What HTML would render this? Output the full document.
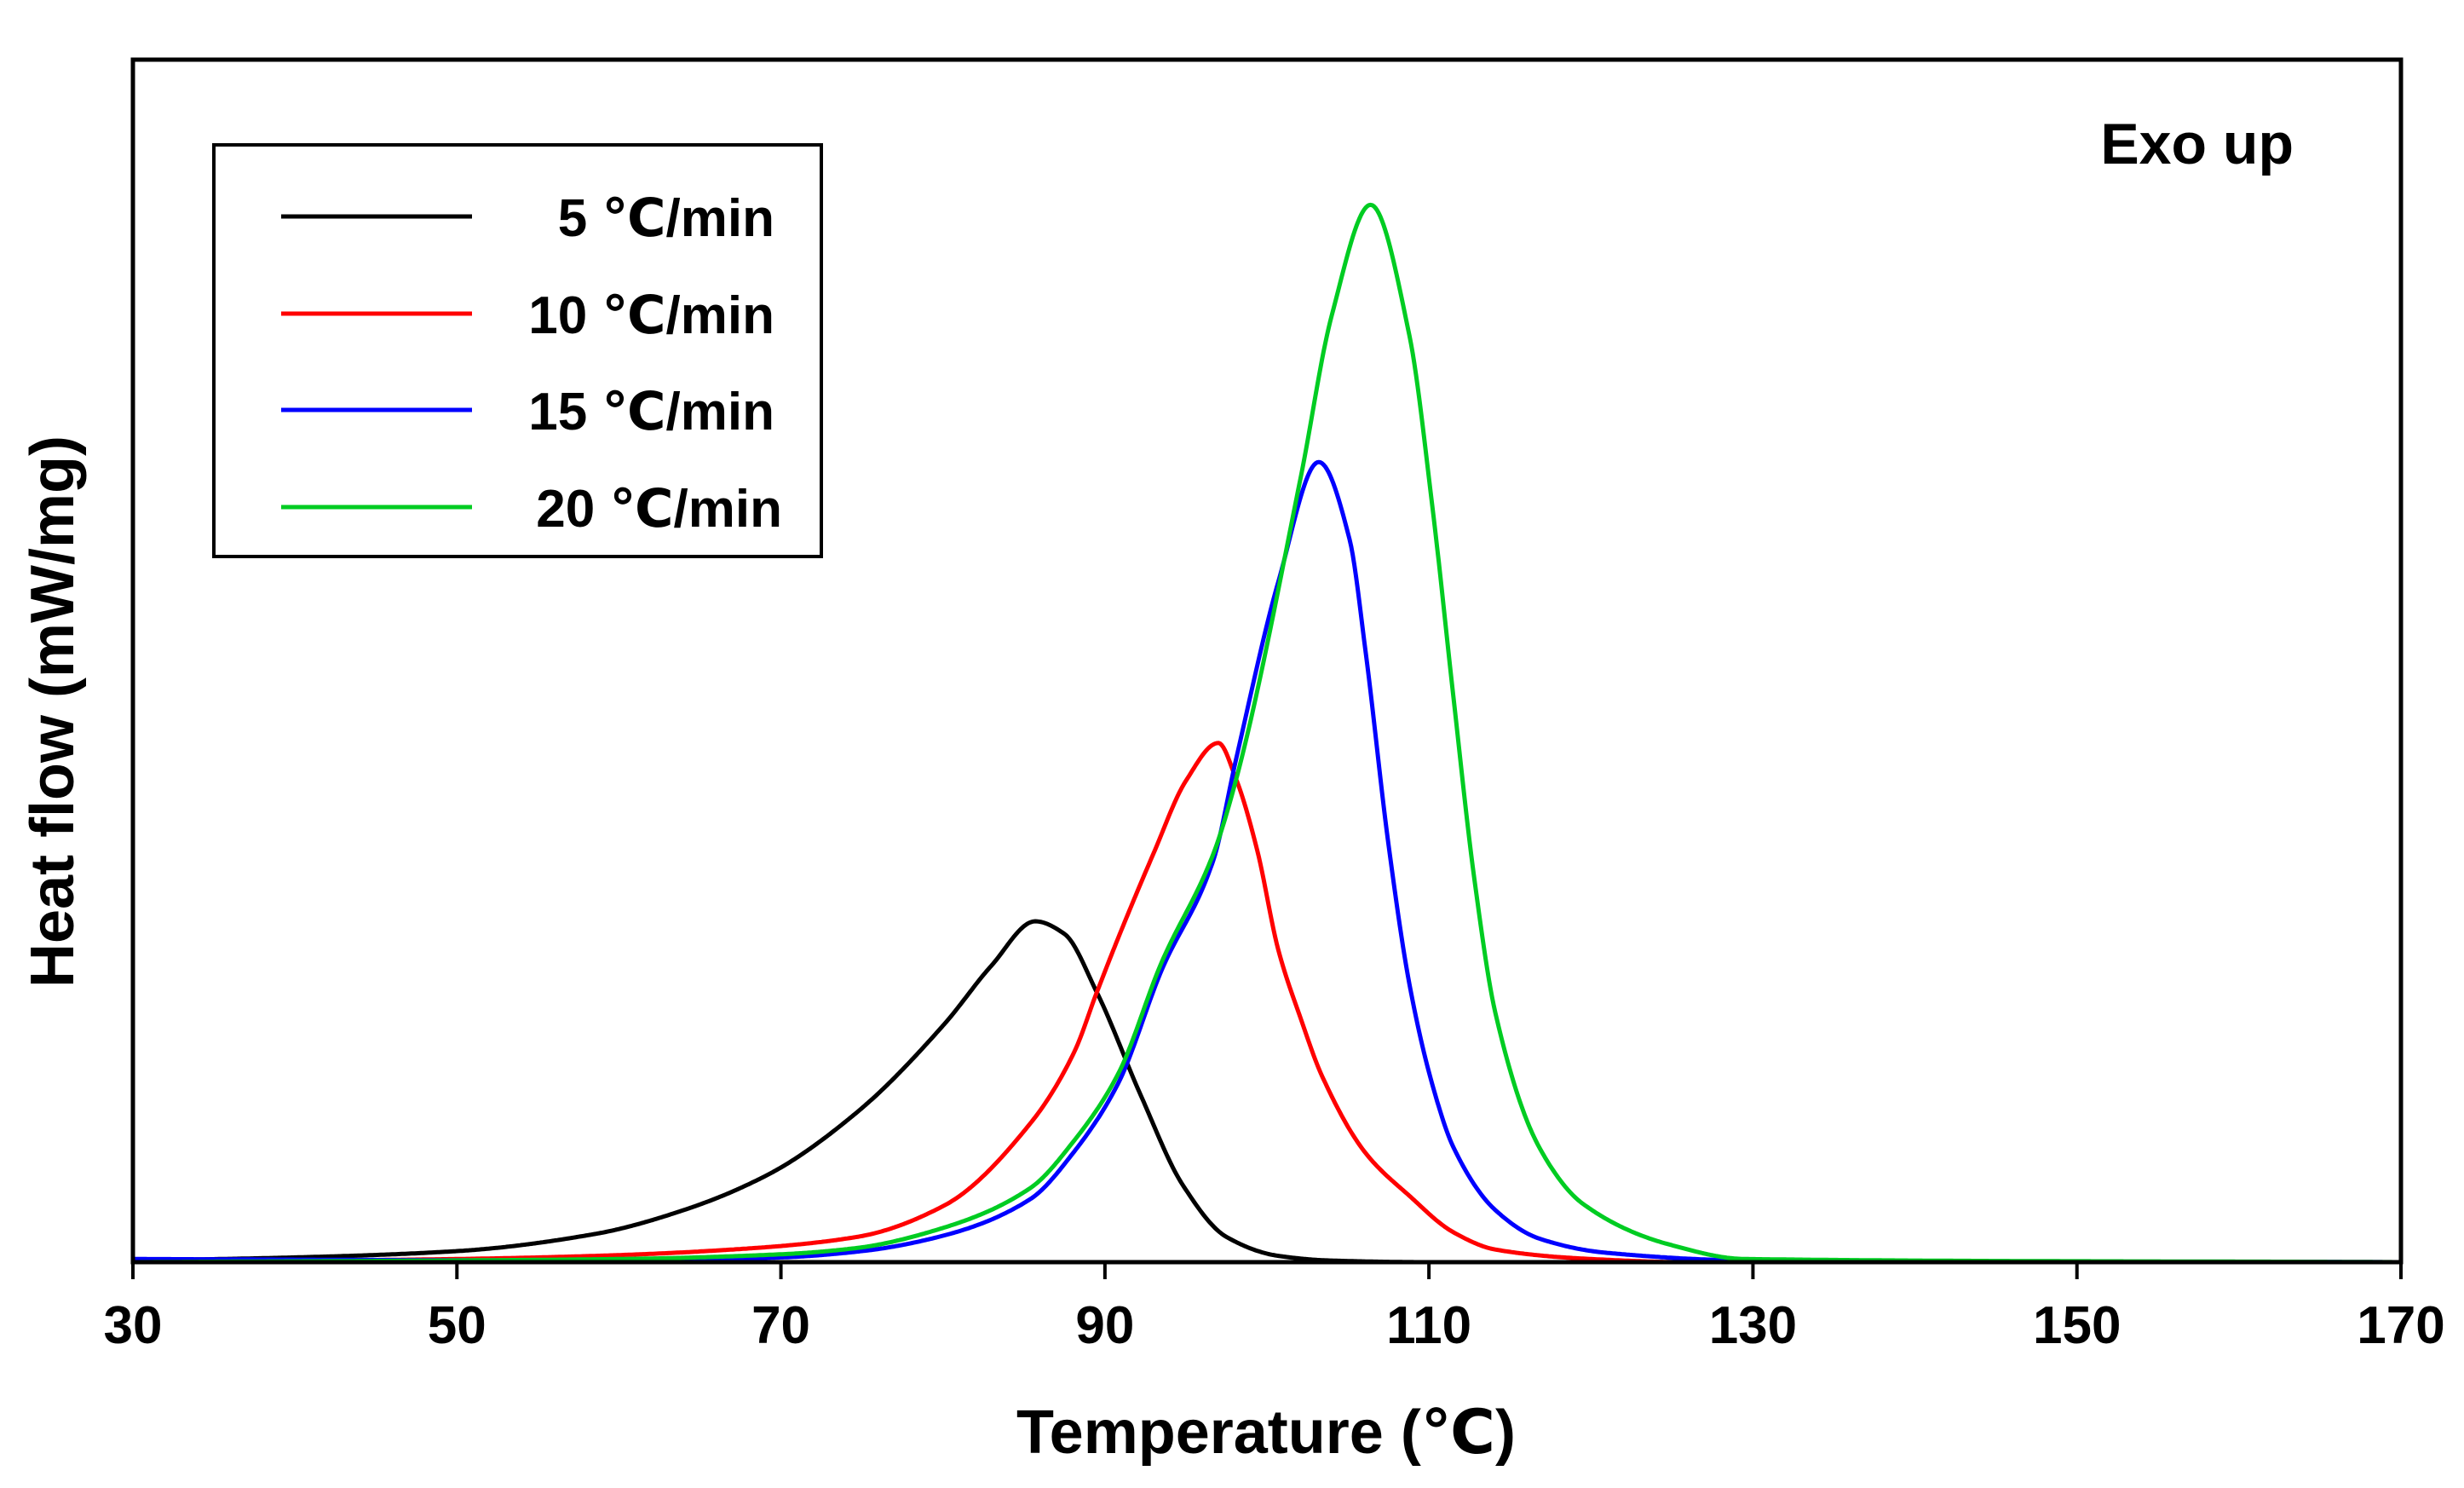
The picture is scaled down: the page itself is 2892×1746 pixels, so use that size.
<!DOCTYPE html>
<html><head><meta charset="utf-8"><style>
html,body{margin:0;padding:0;background:#fff;}
svg{display:block;}
text{font-family:"Liberation Sans","DejaVu Sans",sans-serif;font-weight:bold;fill:#000;}
</style></head><body>
<svg id="chart" width="2892" height="1746" viewBox="0 0 2892 1746" xmlns="http://www.w3.org/2000/svg">
<g id="curves"></g>
<rect x="156" y="70" width="2662" height="1411" fill="none" stroke="#000" stroke-width="5"/>
<g id="xticks"></g>
<text x="1486" y="1705" font-size="72" text-anchor="middle">Temperature (℃)</text>
<text transform="translate(86,835) rotate(-90)" font-size="72" text-anchor="middle">Heat flow (mW/mg)</text>
<text x="2692" y="192" font-size="68" text-anchor="end">Exo up</text>
<g>
<rect x="251" y="170" width="713" height="483" fill="#fff" stroke="#000" stroke-width="4"/>
<g id="legend-entries"></g>
</g>
</svg>
<script>
const xTicks = [30, 50, 70, 90, 110, 130, 150, 170];
const seriesNames = ["5 ℃/min", "10 ℃/min", "15 ℃/min", "20 ℃/min"];
const seriesColors = ["#000000", "#ff0000", "#0000ff", "#00cc22"];
const blackT = [30,40,50,58.6,64,69.3,74.7,80.1,83,85.7,87.5,89.5,92.2,94.8,97.5,100.7,104,110,170];
const blackV = [0.01,0.03,0.07,0.18,0.33,0.56,0.95,1.51,1.88,2.16,2.08,1.71,1.06,0.49,0.16,0.04,0.01,0,0];
const redT = [30,50,58.6,67,74.7,80.1,85.4,88.1,89.5,90.8,93,95,97,98.1,99.4,100.7,102.1,103.4,106.1,108.8,111.5,114.1,120,126,170];
const redV = [0,0.02,0.04,0.08,0.16,0.36,0.88,1.33,1.71,2.05,2.59,3.05,3.29,3.06,2.61,1.98,1.54,1.18,0.69,0.42,0.19,0.08,0.02,0,0];
const blueT = [30,60,70,75,80.1,85.4,88.1,90.8,93.5,96.7,98.1,100.7,103.2,105.1,106.1,107.5,108.8,110.2,111.5,114.1,116.8,120.9,130,170];
const blueV = [0.02,0.01,0.03,0.07,0.17,0.40,0.70,1.13,1.85,2.55,3.19,4.31,5.07,4.58,3.86,2.65,1.76,1.13,0.73,0.33,0.15,0.06,0.01,0];
const greenT = [30,60,70,74.7,80.1,85.4,88.1,90.8,93.5,96.7,98.1,102.1,104,106.4,108.8,110.2,111.5,112.8,114.1,116.8,119.5,124.9,129.5,170];
const greenV = [0,0.02,0.05,0.09,0.22,0.47,0.77,1.19,1.90,2.59,3.06,4.98,6.0,6.70,5.87,4.80,3.59,2.43,1.58,0.73,0.37,0.11,0.02,0];
const allT = [blackT, redT, blueT, greenT];
const allV = [blackV, redV, blueV, greenV];

const NS = "http://www.w3.org/2000/svg";
const X0 = 156, X1 = 2818, Y0 = 1481, Y1 = 70;
const xMin = 30, xMax = 170, yMin = 0, yMax = 7.62;
function xs(t){ return X0 + (t - xMin) / (xMax - xMin) * (X1 - X0); }
function ys(v){ return Y0 - (v - yMin) / (yMax - yMin) * (Y0 - Y1); }

// Fritsch-Carlson monotone cubic interpolation
function monotone(T, V){
  const n = T.length, d = [], m = new Array(n);
  for (let i=0;i<n-1;i++) d.push((V[i+1]-V[i])/(T[i+1]-T[i]));
  m[0]=d[0]; m[n-1]=d[n-2];
  for (let i=1;i<n-1;i++){
    if (d[i-1]*d[i] <= 0) m[i]=0;
    else { const h0=T[i]-T[i-1], h1=T[i+1]-T[i]; const w1=2*h1+h0, w2=h1+2*h0; m[i]=(w1+w2)/(w1/d[i-1]+w2/d[i]); }
  }
  return function(t){
    let i=0; while(i<n-2 && t>T[i+1]) i++;
    const h=T[i+1]-T[i], s=(t-T[i])/h;
    const h00=2*s*s*s-3*s*s+1, h10=s*s*s-2*s*s+s, h01=-2*s*s*s+3*s*s, h11=s*s*s-s*s;
    return h00*V[i]+h10*h*m[i]+h01*V[i+1]+h11*h*m[i+1];
  };
}
function pathFor(T, V){
  const f = monotone(T, V);
  let d = "";
  for (let t=T[0]; t<=T[T.length-1]+1e-9; t+=0.1){
    const v = Math.max(0, f(t));
    d += (d ? " L" : "M") + xs(t).toFixed(1) + "," + ys(v).toFixed(1);
  }
  return d;
}

const cg = document.getElementById("curves");
const keys = ["curve-5-c-min","curve-10-c-min","curve-15-c-min","curve-20-c-min"];
allT.forEach((T, s) => {
  const path = document.createElementNS(NS, "path");
  path.setAttribute("d", pathFor(T, allV[s]));
  path.setAttribute("fill", "none");
  path.setAttribute("stroke", seriesColors[s]);
  path.setAttribute("stroke-width", "5");
  path.setAttribute("stroke-linejoin", "round");
  
  
  cg.appendChild(path);
});

const xg = document.getElementById("xticks");
xTicks.forEach(t => {
  const l = document.createElementNS(NS, "line");
  l.setAttribute("x1", xs(t)); l.setAttribute("x2", xs(t));
  l.setAttribute("y1", Y0); l.setAttribute("y2", Y0 + 20);
  l.setAttribute("stroke", "#000"); l.setAttribute("stroke-width", "4");
  
  
  xg.appendChild(l);
  const tx = document.createElementNS(NS, "text");
  tx.setAttribute("x", xs(t)); tx.setAttribute("y", 1576);
  tx.setAttribute("font-size", "62"); tx.setAttribute("text-anchor", "middle");
  tx.textContent = t;
  
  
  xg.appendChild(tx);
});

const lg = document.getElementById("legend-entries");
const rowY = [254, 368, 481, 595];
const textRight = [909, 909, 909, 918];
seriesNames.forEach((n, i) => {
  const l = document.createElementNS(NS, "line");
  l.setAttribute("x1", 330); l.setAttribute("x2", 554);
  l.setAttribute("y1", rowY[i]); l.setAttribute("y2", rowY[i]);
  l.setAttribute("stroke", seriesColors[i]); l.setAttribute("stroke-width", "5");
  
  
  lg.appendChild(l);
  const tx = document.createElementNS(NS, "text");
  tx.setAttribute("x", textRight[i]); tx.setAttribute("y", rowY[i] + 23);
  tx.setAttribute("font-size", "62"); tx.setAttribute("text-anchor", "end");
  tx.textContent = n;
  
  
  lg.appendChild(tx);
});
</script>
</body></html>
